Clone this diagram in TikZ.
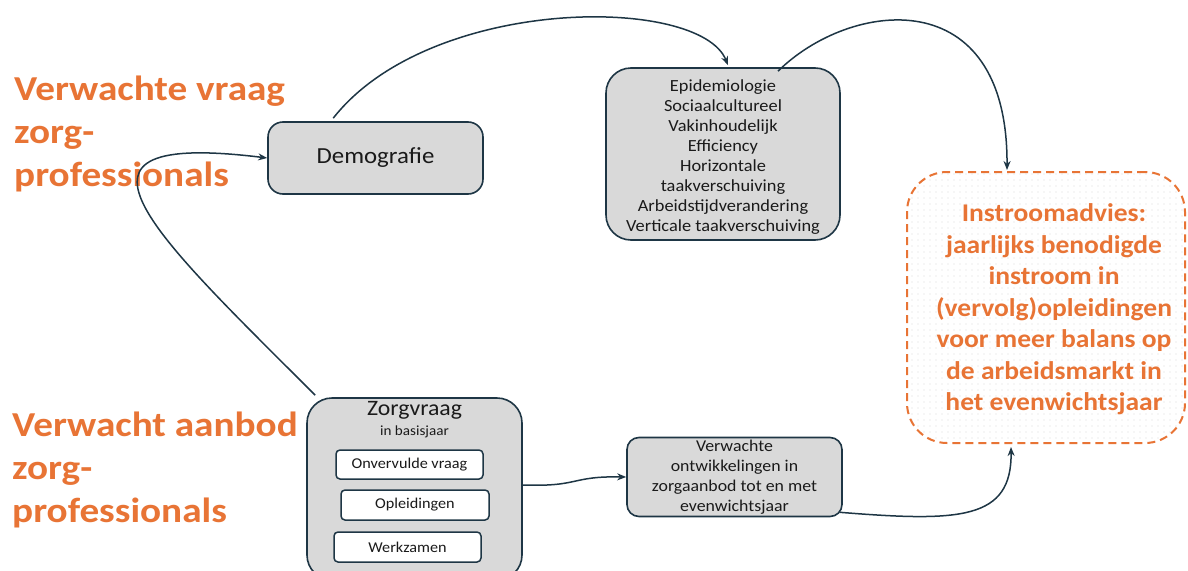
\documentclass[tikz,border=0pt]{standalone}
\usepackage{fontspec}
\setmainfont{Carlito}[FakeStretch=1.08]
\newfontfamily\titlefont{Carlito}[FakeStretch=1.12]
\usetikzlibrary{arrows.meta,calc,patterns.meta}
\definecolor{navy}{HTML}{1E3645}
\definecolor{boxgray}{HTML}{D9D9D9}
\definecolor{orng}{HTML}{E87435}
\definecolor{txt}{HTML}{1A1A1A}
\tikzset{
  graybox/.style={draw=navy, line width=1.6pt, fill=boxgray, rounded corners=#1, text=txt, align=center, inner sep=0pt},
  whitebox/.style={draw=navy, line width=1.5pt, fill=white, rounded corners=4pt, text=txt, align=center, inner sep=0pt, minimum width=147pt, minimum height=29pt, font=\fontsize{15}{18}\selectfont},
  conn/.style={draw=navy, line width=1.5pt, -{Stealth[length=9pt,width=7pt]}},
  title/.style={text=orng, align=left, anchor=north west, inner sep=0pt, font=\titlefont\fontsize{35}{42.8}\selectfont\bfseries},
  advies/.style={draw=orng, line width=2pt, dash pattern=on 8pt off 5pt, rounded corners=40pt, inner sep=0pt, pattern={Dots[radius=0.6pt,distance=6pt]}, pattern color=black!14},
  adviestext/.style={text=orng, align=center, inner sep=0pt, font=\fontsize{25.5}{31.5}\selectfont\bfseries}
}
\begin{document}
\begin{tikzpicture}[x=1pt,y=-1pt]
\useasboundingbox (0,0) rectangle (1188,570);
\clip (0,0) rectangle (1188,570);
\fill[white] (0,0) rectangle (1188,570);

% titles
\node[title] (t1) at (14,76) {Verwachte vraag\\zorg-\\professionals};
\node[title] (t2) at (12,412) {Verwacht aanbod\\zorg-\\professionals};

% boxes
\node[graybox=15pt, minimum width=215pt, minimum height=72pt, font=\fontsize{23}{26}\selectfont] (demo) at (375.5,158) {Demografie};
\node[graybox=25pt, minimum width=234pt, minimum height=172pt] (fact) at (723,154) {};
\node[text=txt, align=center, inner sep=0pt, font=\fontsize{17}{20.1}\selectfont] (factt) at (723,157)
  {Epidemiologie\\Sociaalcultureel\\Vakinhoudelijk\\Efficiency\\Horizontale\\taakverschuiving\\Arbeidstijdverandering\\Verticale taakverschuiving};
\fill[white, rounded corners=40pt] (907,172) rectangle (1185,443);
\node[advies, minimum width=278pt, minimum height=271pt] (adv) at (1046,307.5) {};
\node[adviestext] (advt) at (1054,309.5)
  {Instroomadvies:\\jaarlijks benodigde\\instroom in\\(vervolg)opleidingen\\voor meer balans op\\de arbeidsmarkt in\\het evenwichtsjaar};
\node[graybox=25pt, minimum width=215pt, minimum height=182pt] (zorg) at (414.5,489) {};
\node[text=txt, inner sep=0pt, font=\fontsize{22}{24}\selectfont] (zt) at (414.5,410) {Zorgvraag};
\node[text=txt, inner sep=0pt, font=\fontsize{14}{16}\selectfont] (zs) at (414.5,432) {in basisjaar};
\node[whitebox] (onv) at (409.5,464.5) {Onvervulde vraag};
\node[whitebox, minimum width=148pt, minimum height=30pt] (opl) at (415,505) {Opleidingen};
\node[whitebox, minimum height=30pt] (wer) at (407.5,547) {Werkzamen};
\node[graybox=12pt, minimum width=215pt, minimum height=79pt, font=\fontsize{16.5}{20}\selectfont] (verw) at (734.5,477)
  {Verwachte\\ontwikkelingen in\\zorgaanbod tot en met\\evenwichtsjaar};

% connectors
\coordinate (c1s) at ($(demo.north west)+(66,-3)$);
\coordinate (c1e) at ($(fact.north)+(5,-2)$);
\draw[conn] (c1s) .. controls (430,-5) and (700,-5) .. (c1e);
\coordinate (c2s) at ($(fact.north)+(55,4)$);
\coordinate (c2e) at ($(adv.north west)+(101,-1)$);
\draw[conn] (c2s) .. controls (850,0) and (1008,-20) .. (c2e);
\coordinate (c3s) at ($(zorg.north west)+(9,-2)$);
\draw[conn] (c3s) .. controls (150,230) and (40,130) .. (demo.west);
\coordinate (c4s) at ($(zorg.east)+(0,-4)$);
\draw[conn] (c4s) .. controls (580,487) and (570,476) .. (verw.west);
\coordinate (c5s) at ($(verw.south east)+(-3,-5)$);
\coordinate (c5e) at ($(adv.south west)+(105,3)$);
\draw[conn] (c5s) .. controls (960,522) and (1012,520) .. (c5e);
\end{tikzpicture}
\end{document}
